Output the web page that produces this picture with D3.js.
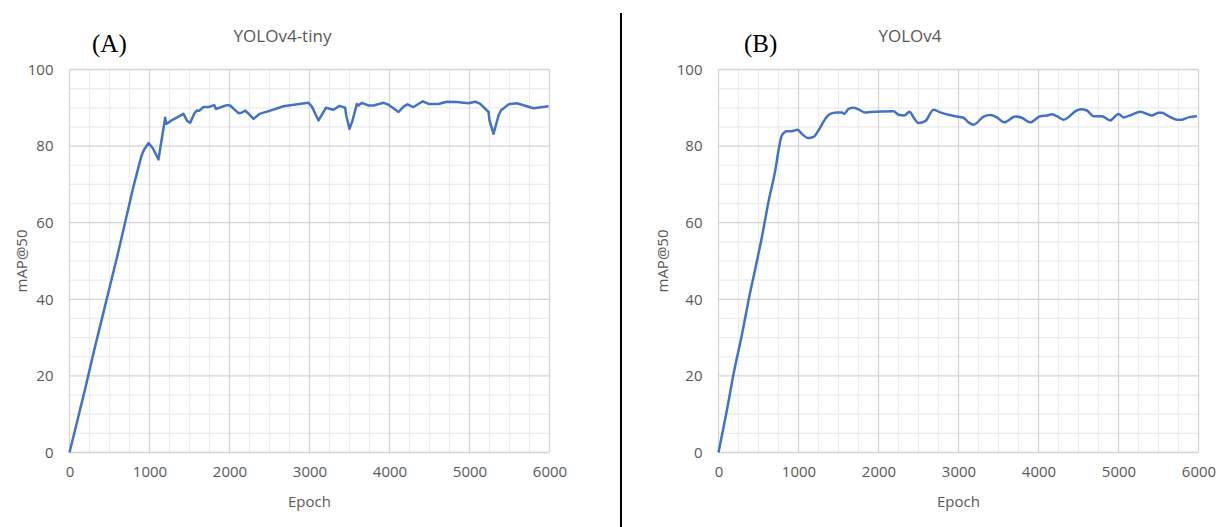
<!DOCTYPE html>
<html>
<head>
<meta charset="utf-8">
<script src="https://cdn.jsdelivr.net/npm/d3@7"></script>
<style>
  html, body { margin: 0; padding: 0; background: #fff; }
  svg { display: block; }
</style>
</head>
<body>
<svg id="chart" width="1220" height="527"></svg>
<script>
// ---- data ----
const xTicks = [0, 1000, 2000, 3000, 4000, 5000, 6000];
const yTicks = [0, 20, 40, 60, 80, 100];

const tinyEpoch = [0,100,200,300,400,500,600,700,800,900,930,988,1040,1112,1196,1209,1300,1425,1470,1509,1560,1592,1620,1675,1738,1809,1830,1900,1967,2009,2060,2113,2150,2196,2250,2300,2375,2500,2675,2850,2988,3030,3113,3205,3300,3375,3446,3459,3500,3538,3592,3613,3654,3738,3800,3925,3988,4113,4175,4225,4300,4417,4488,4613,4717,4842,4988,5071,5134,5238,5250,5300,5363,5392,5488,5592,5800,5988];
const tinyMap   = [0,8.5,17,26,34.5,43,51.5,60.5,69.5,77.5,79,80.8,79.5,76.5,87.4,85.8,87,88.4,86.6,86.1,88.5,89.3,89.2,90.2,90.2,90.7,89.7,90.2,90.7,90.6,89.6,88.6,88.7,89.3,88.2,87.1,88.4,89.2,90.4,90.9,91.3,90.3,86.7,90.0,89.5,90.5,90.0,88.0,84.5,86.7,91.0,90.6,91.3,90.6,90.6,91.3,90.8,88.9,90.3,90.9,90.2,91.7,91.0,91.0,91.6,91.5,91.2,91.6,91.0,88.9,86.7,83.2,88.0,89.3,90.9,91.2,89.9,90.4];

const v4Epoch = [0,100,188,300,375,460,542,625,709,760,792,855,917,988,1042,1125,1188,1250,1334,1396,1480,1542,1571,1625,1688,1750,1834,1896,2188,2250,2321,2388,2438,2500,2584,2688,2771,2959,3063,3125,3188,3313,3396,3479,3571,3709,3792,3896,4021,4104,4167,4229,4313,4479,4529,4604,4688,4792,4896,5000,5063,5167,5271,5354,5417,5500,5542,5625,5729,5792,5875,5980];
const v4Map   = [0,10.5,20.5,31.5,39.7,48,56.2,65.5,73.6,80,82.8,83.9,83.9,84.3,83.2,82.1,82.4,84.1,87.1,88.4,88.8,88.8,88.4,89.7,90.0,89.6,88.8,88.9,89.1,88.2,88.0,89.0,87.5,86.0,86.5,89.5,88.8,87.8,87.4,86.2,85.6,87.7,88.1,87.5,86.2,87.7,87.4,86.2,87.8,88.0,88.3,87.8,86.9,89.3,89.6,89.3,87.8,87.8,86.7,88.4,87.5,88.2,89.0,88.4,88.0,88.7,88.7,87.8,86.9,86.9,87.5,87.8];

const panels = [
  { label: "(A)", title: "YOLOv4-tiny", epoch: tinyEpoch, map: tinyMap, smooth: false,
    left: 69.5, right: 549.5, labelX: 92, titleX: 282.5, yTitleX: 27 },
  { label: "(B)", title: "YOLOv4", epoch: v4Epoch, map: v4Map, smooth: true,
    left: 718.5, right: 1198.5, labelX: 744, titleX: 910, yTitleX: 668 }
];

const svg = d3.select("#chart");
svg.append("rect").attr("width", 1220).attr("height", 527).attr("fill", "#fff");

const plotTop = 69.5, plotBottom = 452.5;
const textColor = "#595959";
const font = "'Open Sans', sans-serif";

panels.forEach(p => {
  const x = d3.scaleLinear().domain([0, 6000]).range([p.left, p.right]);
  const y = d3.scaleLinear().domain([0, 100]).range([plotBottom, plotTop]);
  const g = svg.append("g");

  // minor grid
  const xMinor = d3.range(0, 6001, 250).filter(v => v % 1000 !== 0);
  const yMinor = d3.range(0, 101, 5).filter(v => v % 20 !== 0);
  g.append("g").selectAll("line").data(xMinor).join("line")
    .attr("x1", d => x(d)).attr("x2", d => x(d)).attr("y1", plotTop).attr("y2", plotBottom)
    .attr("stroke", "#ebebeb").attr("stroke-width", 1.2);
  g.append("g").selectAll("line").data(yMinor).join("line")
    .attr("y1", d => y(d)).attr("y2", d => y(d)).attr("x1", p.left).attr("x2", p.right)
    .attr("stroke", "#ebebeb").attr("stroke-width", 1.2);
  // major grid
  g.append("g").selectAll("line").data(xTicks).join("line")
    .attr("x1", d => x(d)).attr("x2", d => x(d)).attr("y1", plotTop).attr("y2", plotBottom)
    .attr("stroke", "#d4d4d4").attr("stroke-width", 1.3);
  g.append("g").selectAll("line").data(yTicks).join("line")
    .attr("y1", d => y(d)).attr("y2", d => y(d)).attr("x1", p.left).attr("x2", p.right)
    .attr("stroke", "#d4d4d4").attr("stroke-width", 1.3);

  // axes (labels only)
  const xAxis = d3.axisBottom(x).tickValues(xTicks).tickSize(0).tickPadding(14).tickFormat(d3.format("d"));
  const gx = g.append("g").attr("transform", `translate(0,${plotBottom})`).call(xAxis);
  gx.select(".domain").remove();
  gx.selectAll("text").attr("fill", textColor).style("font-family", font).style("font-size", "15px");

  const yAxis = d3.axisLeft(y).tickValues(yTicks).tickSize(0).tickPadding(16).tickFormat(d3.format("d"));
  const gy = g.append("g").attr("transform", `translate(${p.left},0)`).call(yAxis);
  gy.select(".domain").remove();
  gy.selectAll("text").attr("fill", textColor).style("font-family", font).style("font-size", "15px");

  // line
  const pts = p.epoch.map((e, i) => [e, p.map[i]]);
  const line = d3.line().x(d => x(d[0])).y(d => y(d[1]))
    .curve(p.smooth ? d3.curveMonotoneX : d3.curveLinear);
  g.append("path").datum(pts).attr("d", line)
    .attr("fill", "none").attr("stroke", "#4472C4").attr("stroke-width", 2.5)
    .attr("stroke-linejoin", "round");

  // titles
  g.append("text").attr("x", p.titleX).attr("y", 42).attr("text-anchor", "middle")
    .attr("fill", textColor).style("font-family", font).style("font-size", "17px").text(p.title);
  g.append("text").attr("x", p.labelX).attr("y", 52)
    .attr("fill", "#000").style("font-family", "'Liberation Serif', serif").style("font-size", "25px").text(p.label);
  g.append("text").attr("x", (p.left + p.right) / 2).attr("y", 507).attr("text-anchor", "middle")
    .attr("fill", textColor).style("font-family", font).style("font-size", "15px").text("Epoch");
  g.append("text").attr("transform", `translate(${p.yTitleX},${(plotTop + plotBottom) / 2}) rotate(-90)`)
    .attr("text-anchor", "middle").attr("fill", textColor)
    .style("font-family", font).style("font-size", "15px").text("mAP@50");
});

// divider
svg.append("line").attr("x1", 621).attr("x2", 621).attr("y1", 13).attr("y2", 527)
  .attr("stroke", "#000").attr("stroke-width", 2);
</script>
</body>
</html>
